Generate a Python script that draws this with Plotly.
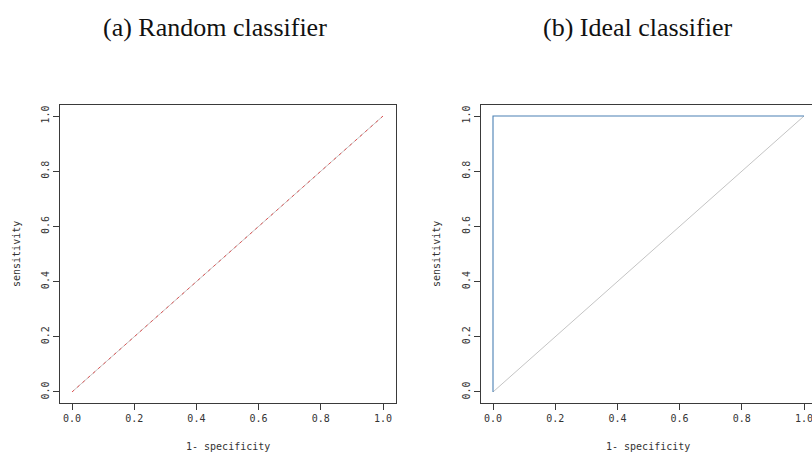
import plotly.graph_objects as go

# ---- data ----
diag_fpr = [0.0, 1.0]
diag_tpr = [0.0, 1.0]
random_fpr = [0.0, 1.0]
random_tpr = [0.0, 1.0]
ideal_fpr = [0.0, 0.0, 1.0]
ideal_tpr = [0.0, 1.0, 1.0]
tick_vals = [0.0, 0.2, 0.4, 0.6, 0.8, 1.0]
tick_text = ["0.0", "0.2", "0.4", "0.6", "0.8", "1.0"]
titles = ["(a) Random classifier", "(b) Ideal classifier"]
x_label = "1- specificity"
y_label = "sensitivity"

W, H = 812, 452
GREY = "#c4c4c4"
FRAME = "#3a3a3a"
TXT = "#333333"
mono = dict(family="DejaVu Sans Mono", size=10, color=TXT)

fig = go.Figure()
# left panel
fig.add_trace(go.Scatter(x=diag_fpr, y=diag_tpr, mode="lines",
                         line=dict(color=GREY, width=1), xaxis="x", yaxis="y"))
fig.add_trace(go.Scatter(x=random_fpr, y=random_tpr, mode="lines",
                         line=dict(color="#e05555", width=1, dash="3px,4px"),
                         xaxis="x", yaxis="y"))
# right panel
fig.add_trace(go.Scatter(x=diag_fpr, y=diag_tpr, mode="lines",
                         line=dict(color=GREY, width=1), xaxis="x2", yaxis="y2"))
fig.add_trace(go.Scatter(x=ideal_fpr, y=ideal_tpr, mode="lines",
                         line=dict(color="#4a80b4", width=1.1), xaxis="x2", yaxis="y2"))

ydom = [1 - 403 / H, 1 - 105 / H]
common_ax = dict(showgrid=False, zeroline=False, showline=True, linecolor=FRAME,
                 linewidth=1.3, ticks="outside", ticklen=6, tickcolor=FRAME,
                 tickwidth=1, tickvals=tick_vals, ticktext=tick_text,
                 tickfont=mono, ticklabeloverflow="allow")

fig.update_layout(
    width=W, height=H, margin=dict(l=0, r=0, t=0, b=0),
    paper_bgcolor="white", plot_bgcolor="white", showlegend=False,
    hovermode=False,
    xaxis=dict(domain=[60 / W, 396 / W], range=[-0.0386, 1.0418],
               mirror=True, anchor="y", **common_ax),
    yaxis=dict(domain=ydom, range=[-0.04, 1.04], mirror=True, anchor="x",
               tickangle=-90, **common_ax),
    xaxis2=dict(domain=[481 / W, 1.0], range=[-0.0386, 1.0257],
                mirror=True, anchor="y2", **common_ax),
    yaxis2=dict(domain=ydom, range=[-0.04, 1.04], mirror=False, anchor="x2",
                tickangle=-90, **common_ax),
)

ann = []
# panel titles
for t, cx in [(titles[0], 215), (titles[1], 637)]:
    ann.append(dict(text=t, x=cx / W, y=1 - 27 / H, xref="paper", yref="paper",
                    showarrow=False, xanchor="center", yanchor="middle",
                    font=dict(family="Liberation Serif", size=26, color="#111111")))
# axis titles
for cx, sx in [(228, 16), (648, 436)]:
    ann.append(dict(text=x_label, x=cx / W, y=1 - 446 / H, xref="paper", yref="paper",
                    showarrow=False, xanchor="center", yanchor="middle", font=mono))
    ann.append(dict(text=y_label, x=sx / W, y=1 - 254 / H, xref="paper", yref="paper",
                    showarrow=False, xanchor="center", yanchor="middle",
                    textangle=-90, font=mono))
fig.update_layout(annotations=ann)

fig.write_html("out.html", config={"displayModeBar": False},
               post_script="document.body.style.margin='0px';document.body.style.overflow='hidden';")
